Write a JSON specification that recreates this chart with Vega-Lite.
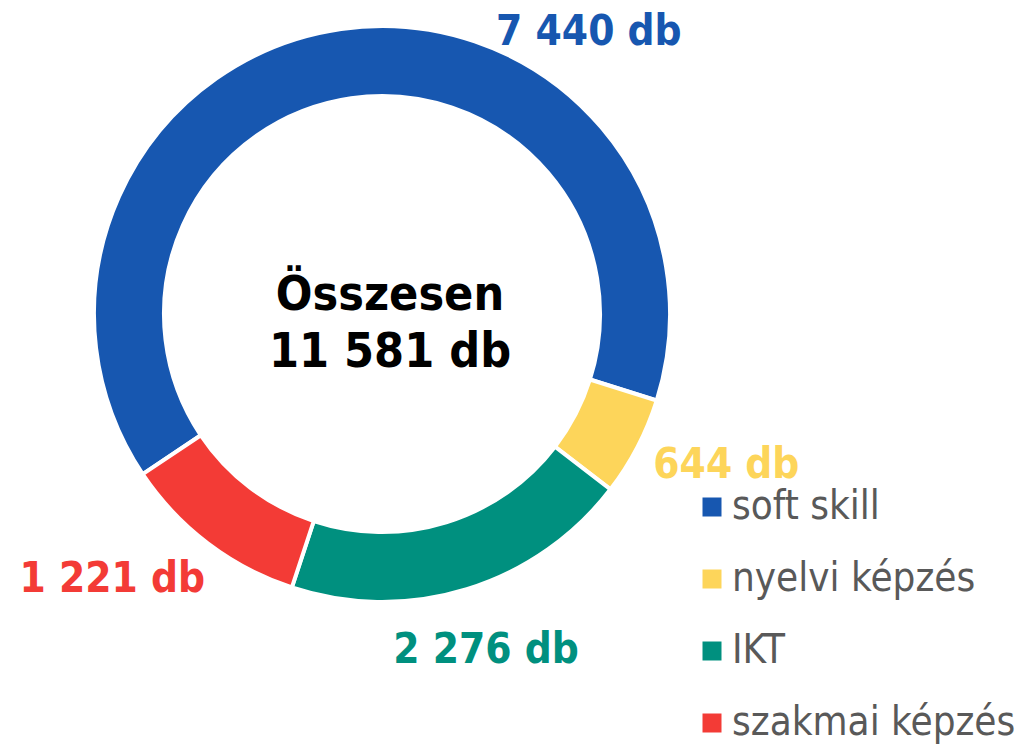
{
  "$schema": "https://vega.github.io/schema/vega-lite/v6.json",
  "width": 764,
  "height": 628,
  "autosize": {"type": "none"},
  "padding": {"left": 0, "top": 0, "right": 266, "bottom": 117},
  "background": "white",
  "config": {"view": {"stroke": null}, "font": "DejaVu Sans Condensed"},
  "datasets": {
    "parts": [
      {"cat": "soft skill", "value": 7440, "label": "7 440 db", "ord": 1},
      {"cat": "nyelvi képzés", "value": 644, "label": "644 db", "ord": 2},
      {"cat": "IKT", "value": 2276, "label": "2 276 db", "ord": 3},
      {"cat": "szakmai képzés", "value": 1221, "label": "1 221 db", "ord": 4}
    ],
    "total": [{"title": "Összesen", "total": "11 581 db"}]
  },
  "data": {"name": "parts"},
  "layer": [
    {
      "mark": {"type": "arc", "outerRadius": 288, "innerRadius": 218, "stroke": "white", "strokeWidth": 4},
      "encoding": {
        "theta": {"field": "value", "type": "quantitative", "stack": true, "scale": {"range": [-2.1607, 4.1225]}},
        "order": {"field": "ord", "type": "quantitative"},
        "color": {
          "field": "cat", "type": "nominal",
          "scale": {"domain": ["soft skill", "nyelvi képzés", "IKT", "szakmai képzés"], "range": ["#1757b0", "#fdd55a", "#00907f", "#f33b36"]},
          "legend": {
            "title": null, "orient": "none", "legendX": 692, "legendY": 487,
            "symbolType": "square", "symbolSize": 361, "symbolStrokeWidth": 0,
            "labelFontSize": 40, "labelColor": "#595959", "labelOffset": 0, "labelLimit": 500,
            "rowPadding": 32, "labelFont": "DejaVu Sans Condensed"
          }
        }
      }
    },
    {
      "mark": {"type": "text", "radius": 360, "fontSize": 42, "fontWeight": "bold", "baseline": "alphabetic", "align": "center", "fill": "#1757b0", "dx": 258, "dy": 87},
      "encoding": {
        "theta": {"field": "value", "type": "quantitative", "stack": true},
        "order": {"field": "ord", "type": "quantitative"},
        "text": {"condition": {"test": "datum.cat === 'soft skill'", "field": "label"}, "value": ""}
      }
    },
    {
      "mark": {"type": "text", "radius": 360, "fontSize": 42, "fontWeight": "bold", "baseline": "alphabetic", "align": "center", "fill": "#fdd55a", "dx": 25, "dy": -2},
      "encoding": {
        "theta": {"field": "value", "type": "quantitative", "stack": true},
        "order": {"field": "ord", "type": "quantitative"},
        "text": {"condition": {"test": "datum.cat === 'nyelvi képzés'", "field": "label"}, "value": ""}
      }
    },
    {
      "mark": {"type": "text", "radius": 360, "fontSize": 42, "fontWeight": "bold", "baseline": "alphabetic", "align": "center", "fill": "#00907f", "dx": -2, "dy": 5},
      "encoding": {
        "theta": {"field": "value", "type": "quantitative", "stack": true},
        "order": {"field": "ord", "type": "quantitative"},
        "text": {"condition": {"test": "datum.cat === 'IKT'", "field": "label"}, "value": ""}
      }
    },
    {
      "mark": {"type": "text", "radius": 360, "fontSize": 42, "fontWeight": "bold", "baseline": "alphabetic", "align": "center", "fill": "#f33b36", "dx": -52, "dy": -9},
      "encoding": {
        "theta": {"field": "value", "type": "quantitative", "stack": true},
        "order": {"field": "ord", "type": "quantitative"},
        "text": {"condition": {"test": "datum.cat === 'szakmai képzés'", "field": "label"}, "value": ""}
      }
    },
    {
      "data": {"name": "total"},
      "mark": {"type": "text", "fontSize": 48, "fontWeight": "bold", "baseline": "alphabetic", "align": "center", "fill": "black", "dx": 8, "dy": -4},
      "encoding": {"text": {"field": "title"}}
    },
    {
      "data": {"name": "total"},
      "mark": {"type": "text", "fontSize": 48, "fontWeight": "bold", "baseline": "alphabetic", "align": "center", "fill": "black", "dx": 8, "dy": 53},
      "encoding": {"text": {"field": "total"}}
    }
  ]
}
